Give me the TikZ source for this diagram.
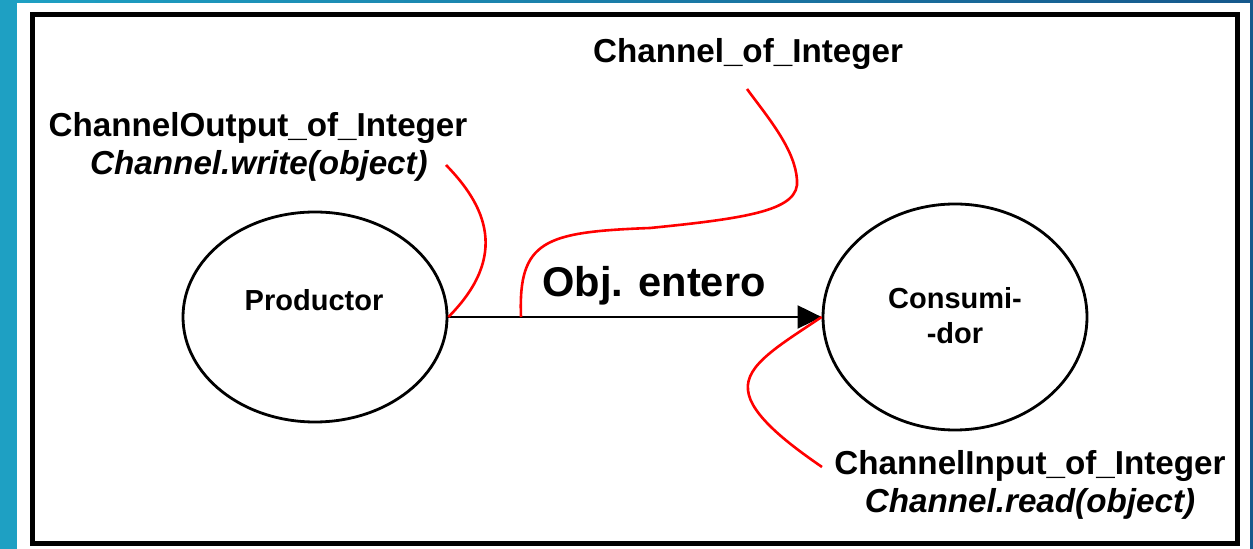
\documentclass[tikz,border=0pt]{standalone}
\usepackage{fontspec}
\setmainfont{Liberation Sans}
\usetikzlibrary{shapes.geometric,arrows.meta}
\definecolor{slideteal}{RGB}{30,160,195}
\definecolor{slideblue}{RGB}{22,88,140}
\tikzset{
  proc/.style={draw, ellipse, line width=1.4pt, inner sep=0pt, minimum width=132pt},
  inname/.style={font=\fontsize{14.5}{17}\selectfont\bfseries, anchor=base, inner sep=0pt},
  lbl/.style={font=\fontsize{16.6}{19}\selectfont\bfseries, anchor=base, inner sep=0pt},
  call/.style={lbl, font=\fontsize{16.6}{19}\selectfont\bfseries\itshape},
  flow/.style={line width=1pt, -{Triangle[length=12pt,width=11.5pt]}},
  wire/.style={red, line width=1.3pt}
}
\begin{document}
\begin{tikzpicture}[x=0.5pt,y=-0.5pt]
  \useasboundingbox (0,0) rectangle (1253,549);
  % slide background and frame
  \fill[white] (0,0) rectangle (1253,549);
  \fill[slideteal] (0,0) rectangle (17,549);
  \shade[left color=slideteal, right color=slideblue] (17,0) rectangle (1253,3);
  \fill[slideblue] (1250,0) rectangle (1253,549);
  \draw[line width=2.5pt] (32.5,14.5) rectangle (1237,544);

  % processes
  \node[proc, minimum height=105pt] (prod) at (315,317) {};
  \node[proc, minimum height=113pt] (cons) at (955,317) {};
  \node[inname] (prodname) at (314,311) {Productor};
  \node[inname] (consname) at (955,309) {Consumi-};
  \node[inname] (consname2) at (955,344) {-dor};

  \draw[flow] (prod.east) -- (cons.west);
  \node[font=\fontsize{20.8}{24}\selectfont\bfseries, anchor=base, inner sep=0pt] (flowname) at (654,297) {Obj. entero};

  % labels
  \node[lbl] (channame) at (748,63) {Channel\_of\_Integer};
  \node[lbl] (outname) at (258,137) {ChannelOutput\_of\_Integer};
  \node[call] (outcall) at (259,175) {Channel.write(object)};
  \node[lbl] (inname) at (1030,475) {ChannelInput\_of\_Integer};
  \node[call] (incall) at (1030,513) {Channel.read(object)};

  \coordinate (tap) at (521,317);
  \coordinate (outend) at (446,165);
  \coordinate (chanend) at (747,89);
  \coordinate (inend) at (822,467);

  % red pointers
  \draw[wire] (prod.east) .. controls (510,255) and (485,205) .. (outend);
  \draw[wire] (tap) .. controls (518,240) and (545,232) .. (650,228)
    .. controls (750,218) and (800,210) .. (797,180)
    .. controls (795,150) and (770,120) .. (chanend);
  \draw[wire] (cons.west) .. controls (780,345) and (745,365) .. (748,390)
    .. controls (750,415) and (790,445) .. (inend);
\end{tikzpicture}
\end{document}
